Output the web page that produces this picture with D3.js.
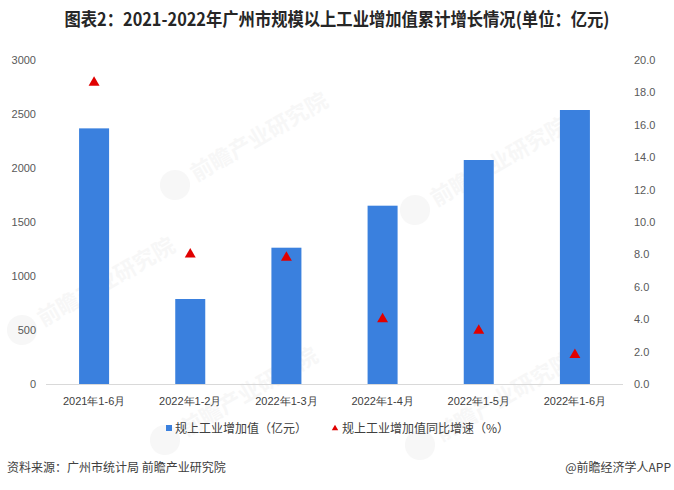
<!DOCTYPE html>
<html><head><meta charset="utf-8">
<script src="https://cdn.jsdelivr.net/npm/d3@7"></script>
<style>
html,body{margin:0;padding:0;background:#fff;}
svg{display:block;font-family:"Noto Sans CJK SC","Microsoft YaHei",sans-serif;}
</style></head>
<body>
<svg id="chart" width="674" height="490"></svg>
<script>
const categories = ["2021年1-6月","2022年1-2月","2022年1-3月","2022年1-4月","2022年1-5月","2022年1-6月"];
const valueSeries = [2367, 787, 1262, 1651, 2074, 2537];
const growthSeries = [18.6, 8.0, 7.8, 4.0, 3.3, 1.8];
const leftTicks = [0, 500, 1000, 1500, 2000, 2500, 3000];
const rightTicks = [0, 2, 4, 6, 8, 10, 12, 14, 16, 18, 20];
const seriesNames = ["规上工业增加值（亿元）", "规上工业增加值同比增速（%）"];
const titleText = "图表2：2021-2022年广州市规模以上工业增加值累计增长情况(单位：亿元)";
const sourceText = "资料来源：广州市统计局 前瞻产业研究院";
const brandText = "@前瞻经济学人APP";

const svg = d3.select("#chart");
const W = 674, H = 490;
const plot = {left: 46, right: 623, top: 60, bottom: 384};
const barColor = "#3a80de", triColor = "#e00000", tickColor = "#595959";

// faint watermarks
const wm = [[175,185],[415,210],[22,330],[165,440],[420,445]];
wm.forEach(([x,y]) => {
  const g = svg.append("g").attr("transform", `translate(${x},${y}) rotate(-30)`).attr("opacity", 0.045);
  g.append("circle").attr("cx", 0).attr("cy", 0).attr("r", 15).attr("fill", "#555");
  g.append("text").attr("x", 20).attr("y", 8).attr("font-size", 22).attr("font-weight", "bold").attr("fill", "#555").text("前瞻产业研究院");
});

const x = d3.scaleBand().domain(categories).range([plot.left, plot.right]).paddingInner(0.688).paddingOuter(0.344);
const yL = d3.scaleLinear().domain([0, 3000]).range([plot.bottom, plot.top]);
const yR = d3.scaleLinear().domain([0, 20]).range([plot.bottom, plot.top]);

// title
svg.append("text").attr("x", W/2).attr("y", 26).attr("text-anchor", "middle")
  .attr("font-size", 18).attr("font-weight", "bold").attr("fill", "#262626")
  .attr("textLength", 545).attr("lengthAdjust", "spacingAndGlyphs").text(titleText);

// left axis
const axL = svg.append("g").attr("transform", `translate(${plot.left - 10},0)`)
  .call(d3.axisLeft(yL).tickValues(leftTicks).tickSize(0).tickPadding(0).tickFormat(d3.format("d")));
axL.select(".domain").remove();
axL.selectAll("text").attr("font-size", 11).attr("fill", tickColor).attr("font-family", "'Liberation Sans', Arial, sans-serif");

// right axis
const axR = svg.append("g").attr("transform", `translate(${plot.right + 11},0)`)
  .call(d3.axisRight(yR).tickValues(rightTicks).tickSize(0).tickPadding(0).tickFormat(d3.format(".1f")));
axR.select(".domain").remove();
axR.selectAll("text").attr("font-size", 11).attr("fill", tickColor).attr("font-family", "'Liberation Sans', Arial, sans-serif");

// bars
svg.append("g").selectAll("rect").data(valueSeries).join("rect")
  .attr("x", (d,i) => x(categories[i])).attr("width", x.bandwidth())
  .attr("y", d => yL(d)).attr("height", d => yL(0) - yL(d)).attr("fill", barColor);

// x axis
const axX = svg.append("g").attr("transform", `translate(0,${plot.bottom})`)
  .call(d3.axisBottom(x).tickSize(0).tickPadding(13));
axX.select(".domain").attr("stroke", "#d9d9d9").attr("d", `M${plot.left},0.5H${plot.right}`);
axX.selectAll("text").attr("font-size", 11).attr("fill", "#404040");

// triangles
const tri = d3.symbol().type(d3.symbolTriangle).size(52);
svg.append("g").selectAll("path").data(growthSeries).join("path")
  .attr("d", tri)
  .attr("transform", (d,i) => `translate(${x(categories[i]) + x.bandwidth()/2},${yR(d)})`)
  .attr("fill", triColor);

// legend
const lg = svg.append("g");
lg.append("rect").attr("x", 166).attr("y", 425).attr("width", 6).attr("height", 6).attr("fill", barColor);
lg.append("text").attr("x", 175).attr("y", 433).attr("font-size", 12).attr("fill", "#404040").text(seriesNames[0]);
lg.append("path").attr("d", d3.symbol().type(d3.symbolTriangle).size(18))
  .attr("transform", "translate(335,428.5)").attr("fill", triColor);
lg.append("text").attr("x", 342).attr("y", 433).attr("font-size", 12).attr("fill", "#404040").text(seriesNames[1]);

// footer
svg.append("text").attr("x", 7).attr("y", 472).attr("font-size", 12).attr("fill", "#404040").text(sourceText);
svg.append("text").attr("x", 671).attr("y", 472).attr("text-anchor", "end").attr("font-size", 12).attr("fill", "#404040").text(brandText);
</script>
</body></html>
